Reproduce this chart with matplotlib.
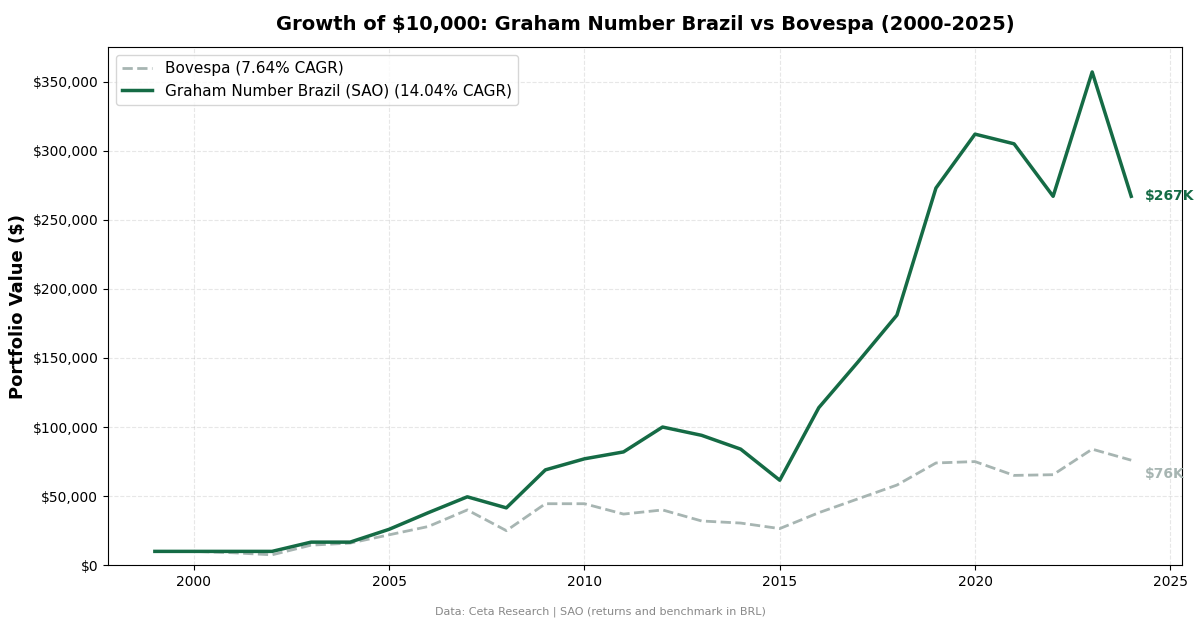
import numpy as np
import matplotlib.pyplot as plt
import matplotlib.ticker as mticker

years = list(range(1999, 2025))
graham = [10000, 10000, 10000, 10000, 16700, 16700, 26000, 38000, 49500, 41500,
          69000, 77000, 82000, 100000, 94000, 84000, 61500, 114000, 147000, 181000,
          273000, 312000, 305000, 267000, 357000, 267000]
bovespa = [10000, 10000, 9000, 7500, 14500, 16000, 22000, 28000, 40000, 25000,
           44500, 44500, 37000, 40000, 32000, 30500, 26500, 38000, 48000, 58000,
           74000, 75000, 65000, 65500, 84000, 76000]

green = '#156b45'
grey = '#a7b5b2'

fig, ax = plt.subplots(figsize=(12, 6.28), dpi=100)
ax.plot(years, bovespa, '--', color=grey, lw=2, label='Bovespa (7.64% CAGR)')
ax.plot(years, graham, '-', color=green, lw=2.5, label='Graham Number Brazil (SAO) (14.04% CAGR)')

ax.annotate(f'${graham[-1]/1000:.0f}K', (years[-1], graham[-1]), xytext=(10, 0),
            textcoords='offset points', color=green, fontweight='bold', fontsize=10, va='center')
ax.annotate(f'${bovespa[-1]/1000:.0f}K', (years[-1], bovespa[-1]), xytext=(10, -10),
            textcoords='offset points', color=grey, fontweight='bold', fontsize=10, va='center')

ax.set_xlim(1997.8, 2025.3)
ax.set_ylim(0, 375000)
ax.yaxis.set_major_formatter(mticker.FuncFormatter(lambda v, p: f'${v:,.0f}'))
ax.set_ylabel('Portfolio Value ($)', fontsize=13, fontweight='bold')
ax.set_title('Growth of $10,000: Graham Number Brazil vs Bovespa (2000-2025)',
             fontsize=14, fontweight='bold', pad=12)
ax.grid(True, ls='--', alpha=0.3)
ax.tick_params(labelsize=10)
ax.legend(loc='upper left', fontsize=11)
fig.text(0.5, 0.022, 'Data: Ceta Research | SAO (returns and benchmark in BRL)',
         ha='center', fontsize=8, color='#888888')
fig.subplots_adjust(left=0.09, right=0.985, top=0.925, bottom=0.1)
fig.savefig('out.png')
